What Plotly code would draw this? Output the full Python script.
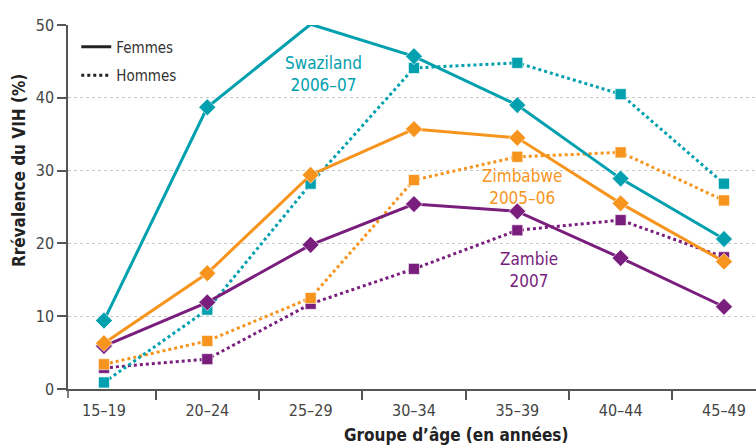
import plotly.graph_objects as go

age_groups = ["15–19", "20–24", "25–29", "30–34", "35–39", "40–44", "45–49"]

swaziland_f = [9.4, 38.7, 50.1, 45.7, 39.0, 28.9, 20.6]
swaziland_h = [0.9, 10.9, 28.2, 44.1, 44.8, 40.5, 28.2]
zimbabwe_f = [6.3, 15.9, 29.4, 35.7, 34.5, 25.5, 17.5]
zimbabwe_h = [3.4, 6.6, 12.5, 28.7, 31.9, 32.5, 25.9]
zambie_f = [5.9, 11.9, 19.8, 25.4, 24.4, 18.0, 11.3]
zambie_h = [2.9, 4.1, 11.7, 16.5, 21.8, 23.2, 18.1]

TEAL = "#00A0AE"
ORANGE = "#F7941D"
PURPLE = "#7A1E7D"
FONT = "DejaVu Sans Condensed, Liberation Sans, sans-serif"

x = list(range(len(age_groups)))
fig = go.Figure()

series = [
    (zambie_h, PURPLE, "dot", "square"),
    (zimbabwe_h, ORANGE, "dot", "square"),
    (swaziland_h, TEAL, "dot", "square"),
    (zambie_f, PURPLE, "solid", "diamond"),
    (zimbabwe_f, ORANGE, "solid", "diamond"),
    (swaziland_f, TEAL, "solid", "diamond"),
]
for vals, col, dash, sym in series:
    fig.add_trace(go.Scatter(
        x=x, y=vals, mode="lines+markers", showlegend=False,
        line=dict(color=col, width=3, dash=dash),
        marker=dict(symbol=sym, size=13 if sym == "diamond" else 11, color=col,
                    line=dict(color="rgba(255,255,255,0.6)", width=1)),
        cliponaxis=False,
    ))

# legend entries
fig.add_trace(go.Scatter(x=[None], y=[None], mode="lines", name="Femmes",
                         legendgroup="f", line=dict(color="#222", width=3)))
fig.add_trace(go.Scatter(x=[None], y=[None], mode="lines", name="Hommes",
                         legendgroup="h", line=dict(color="#222", width=3, dash="dot")))

fig.update_layout(
    width=756, height=446,
    margin=dict(l=68, r=0, t=24.5, b=56.5),
    plot_bgcolor="white", paper_bgcolor="white",
    font=dict(family=FONT, size=16, color="#444"),
    legend=dict(x=0.012, y=0.985, xanchor="left", yanchor="top",
                font=dict(size=15, color="#333"), tracegroupgap=6,
                itemwidth=30, bgcolor="rgba(0,0,0,0)"),
    xaxis=dict(
        range=[-0.348, 6.31], tickvals=x, ticktext=age_groups,
        ticks="", showgrid=False, zeroline=False,
        showline=True, linecolor="#555", linewidth=1.5,
        tickfont=dict(size=16, color="#444"), ticklabelstandoff=6,
        minor=dict(tick0=0.5, dtick=1, ticks="outside", ticklen=9,
                   tickcolor="#555", tickwidth=1.5, showgrid=False),
    ),
    yaxis=dict(
        range=[0, 50], tickvals=[0, 10, 20, 30, 40, 50],
        ticks="outside", ticklen=9, tickcolor="#555", tickwidth=1.5,
        showline=True, linecolor="#555", linewidth=1.5,
        showgrid=True, gridcolor="#c8c8c8", griddash="dot", gridwidth=1.2,
        zeroline=False, tickfont=dict(size=16, color="#444"),
    ),
)

# left-end x tick
fig.add_shape(type="line", xref="paper", yref="paper", x0=0, x1=0, y0=0, y1=-9/365,
              line=dict(color="#555", width=1.5))

annos = [
    ("Swaziland<br>2006–07", 2.12, 43.3, TEAL),
    ("Zimbabwe<br>2005–06", 4.05, 27.7, ORANGE),
    ("Zambie<br>2007", 4.11, 16.4, PURPLE),
]
for txt, ax, ay, col in annos:
    fig.add_annotation(x=ax, y=ay, xref="x", yref="y", text=txt, showarrow=False,
                       font=dict(size=17, color=col, family=FONT), align="center")

W, H = 756, 446
L, R, T, B = 68, 0, 24.5, 56.5
pw, ph = W - L - R, H - T - B

fig.add_annotation(x=(456 - L) / pw, y=(H - B - 436) / ph, xref="paper", yref="paper",
                   xanchor="center", yanchor="middle",
                   text="<b>Groupe d’âge (en années)</b>",
                   showarrow=False, font=dict(size=17, color="#222", family=FONT))
fig.add_annotation(x=(19 - L) / pw, y=(H - B - 171) / ph, xref="paper", yref="paper",
                   xanchor="center", yanchor="middle",
                   text="<b>Rrévalence du VIH (%)</b>", textangle=-90,
                   showarrow=False, font=dict(size=17, color="#222", family=FONT))

fig.write_html("out.html", config={"displayModeBar": False},
               post_script="document.body.style.margin='0';document.body.style.overflow='hidden';")
